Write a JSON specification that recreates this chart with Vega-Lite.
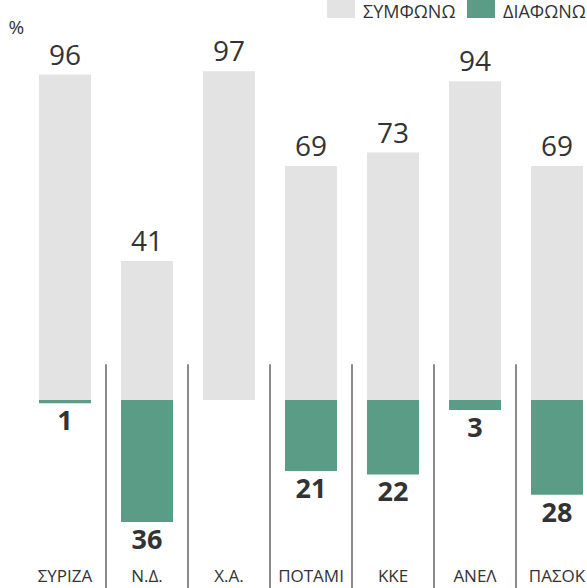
{
  "$schema": "https://vega.github.io/schema/vega-lite/v6.json",
  "width": 563,
  "height": 588,
  "autosize": "none",
  "padding": {"left": 24, "top": 0, "right": 0, "bottom": 0},
  "background": "white",
  "config": {"view": {"stroke": null}, "font": "Open Sans"},
  "data": {
    "values": [
      {"party": "ΣΥΡΙΖΑ", "type": "ΣΥΜΦΩΝΩ", "v": 96},
      {"party": "Ν.Δ.", "type": "ΣΥΜΦΩΝΩ", "v": 41},
      {"party": "Χ.Α.", "type": "ΣΥΜΦΩΝΩ", "v": 97},
      {"party": "ΠΟΤΑΜΙ", "type": "ΣΥΜΦΩΝΩ", "v": 69},
      {"party": "ΚΚΕ", "type": "ΣΥΜΦΩΝΩ", "v": 73},
      {"party": "ΑΝΕΛ", "type": "ΣΥΜΦΩΝΩ", "v": 94},
      {"party": "ΠΑΣΟΚ", "type": "ΣΥΜΦΩΝΩ", "v": 69},
      {"party": "ΣΥΡΙΖΑ", "type": "ΔΙΑΦΩΝΩ", "v": -1},
      {"party": "Ν.Δ.", "type": "ΔΙΑΦΩΝΩ", "v": -36},
      {"party": "ΠΟΤΑΜΙ", "type": "ΔΙΑΦΩΝΩ", "v": -21},
      {"party": "ΚΚΕ", "type": "ΔΙΑΦΩΝΩ", "v": -22},
      {"party": "ΑΝΕΛ", "type": "ΔΙΑΦΩΝΩ", "v": -3},
      {"party": "ΠΑΣΟΚ", "type": "ΔΙΑΦΩΝΩ", "v": -28}
    ]
  },
  "encoding": {
    "x": {
      "field": "party",
      "type": "nominal",
      "sort": ["ΣΥΡΙΖΑ", "Ν.Δ.", "Χ.Α.", "ΠΟΤΑΜΙ", "ΚΚΕ", "ΑΝΕΛ", "ΠΑΣΟΚ"],
      "scale": {"range": [0, 574], "paddingInner": 0, "paddingOuter": 0},
      "axis": null
    }
  },
  "layer": [
    {
      "transform": [{"filter": "datum.type === 'ΣΥΜΦΩΝΩ' && datum.party !== 'ΣΥΡΙΖΑ'"}],
      "mark": {"type": "rule", "color": "#8a8a8a", "strokeWidth": 2},
      "encoding": {
        "x": {"field": "party", "type": "nominal", "bandPosition": 0, "sort": ["ΣΥΡΙΖΑ", "Ν.Δ.", "Χ.Α.", "ΠΟΤΑΜΙ", "ΚΚΕ", "ΑΝΕΛ", "ΠΑΣΟΚ"]},
        "y": {"datum": 10.5},
        "y2": {"datum": -60}
      }
    },
    {
      "mark": {"type": "bar", "width": {"band": 0.634}},
      "encoding": {
        "y": {
          "field": "v",
          "type": "quantitative",
          "scale": {"domain": [-55.5, 118], "nice": false, "zero": false},
          "axis": {
            "title": "%",
            "labels": false,
            "ticks": false,
            "domain": false,
            "grid": false,
            "titleAngle": 0,
            "titleAlign": "left",
            "titleBaseline": "alphabetic",
            "titleX": -16,
            "titleY": 33,
            "titleFontSize": 19,
            "titleFontWeight": "normal",
            "titleColor": "#333333",
            "titleFont": "Open Sans"
          }
        },
        "y2": {"datum": 0},
        "color": {
          "field": "type",
          "type": "nominal",
          "scale": {"domain": ["ΣΥΜΦΩΝΩ", "ΔΙΑΦΩΝΩ"], "range": ["#e3e3e3", "#5a9c86"]},
          "legend": {
            "orient": "none",
            "legendX": 303,
            "legendY": -10,
            "direction": "horizontal",
            "title": null,
            "padding": 0,
            "symbolType": "square",
            "symbolSize": 784,
            "symbolStrokeWidth": 0,
            "symbolOpacity": 1,
            "labelFontSize": 18,
            "labelFont": "Open Sans",
            "labelColor": "#333333",
            "labelOffset": 8,
            "labelBaseline": "top",
            "columnPadding": 11
          }
        }
      }
    },
    {
      "transform": [{"filter": "datum.v > 0"}],
      "mark": {"type": "text", "baseline": "alphabetic", "dy": -10, "fontSize": 28, "color": "#333333", "font": "Open Sans"},
      "encoding": {
        "y": {"field": "v", "type": "quantitative"},
        "text": {"field": "v", "type": "quantitative"}
      }
    },
    {
      "transform": [{"filter": "datum.v < 0"}],
      "mark": {"type": "text", "baseline": "top", "dy": 6, "fontSize": 27, "fontWeight": "bold", "color": "#333333", "font": "Open Sans", "text": {"expr": "abs(datum.v)"}},
      "encoding": {
        "y": {"field": "v", "type": "quantitative"}
      }
    },
    {
      "transform": [{"filter": "datum.v > 0"}],
      "mark": {"type": "text", "baseline": "middle", "fontSize": 17, "color": "#333333", "font": "Open Sans"},
      "encoding": {
        "y": {"datum": -52.2},
        "text": {"field": "party", "type": "nominal"}
      }
    }
  ]
}
